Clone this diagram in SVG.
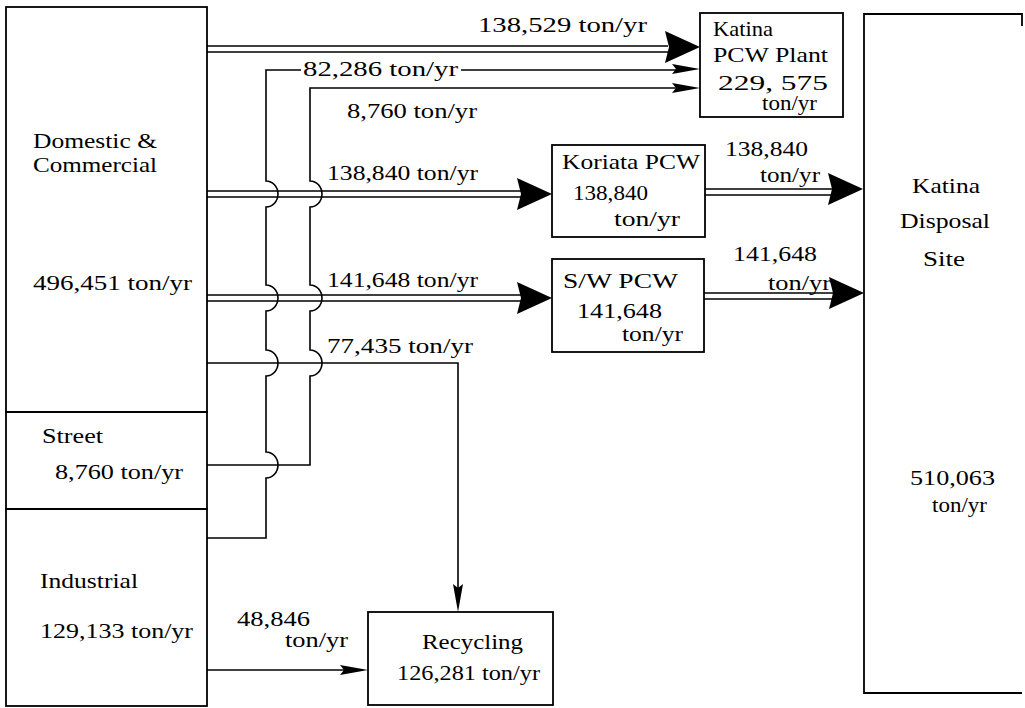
<svg xmlns="http://www.w3.org/2000/svg" xmlns:xlink="http://www.w3.org/1999/xlink" width="1025" height="708" viewBox="0 0 1025 708">
<style>
.box{fill:none;stroke:#000;stroke-width:1.8}
.ln{fill:none;stroke:#000;stroke-width:1.6}
.ah{fill:#000;stroke:none}
text{font-family:"Liberation Serif","Times New Roman",serif;font-size:21px;fill:#000}
</style>
<defs>
<polygon id="ahBig" class="ah" points="-35,-16 0,0 -35,16 -31,0"/>
<polygon id="ahSmall" class="ah" points="-28,-5 0,0 -28,5 -24,0"/>
</defs>
<rect width="1025" height="708" fill="#fff"/>

<g id="connectors">
  <!-- 138,529 to Katina PCW Plant -->
  <path class="ln" d="M207,46 H668 M207,52 H668"/>
  <use xlink:href="#ahBig" href="#ahBig" x="700" y="47"/>
  <!-- Industrial 82,286 to Katina PCW Plant -->
  <path class="ln" d="M207,538 H266 V478 A12,13 0 0 0 266,452 V376 A12,13 0 0 0 266,350 V311 A12,13 0 0 0 266,285 V207 A12,13 0 0 0 266,181 V70 H301 M461,70 H676"/>
  <use xlink:href="#ahSmall" href="#ahSmall" x="700" y="69"/>
  <!-- Street 8,760 to Katina PCW Plant -->
  <path class="ln" d="M207,465 H310 V376 A12,13 0 0 0 310,350 V311 A12,13 0 0 0 310,285 V207 A12,13 0 0 0 310,181 V88 H676"/>
  <use xlink:href="#ahSmall" href="#ahSmall" x="700" y="88"/>
  <!-- 138,840 to Koriata -->
  <path class="ln" d="M207,191 H522 M207,197 H522"/>
  <use xlink:href="#ahBig" href="#ahBig" x="552" y="194"/>
  <!-- 141,648 to S/W -->
  <path class="ln" d="M207,295 H522 M207,301 H522"/>
  <use xlink:href="#ahBig" href="#ahBig" x="552" y="298"/>
  <!-- 77,435 to Recycling -->
  <path class="ln" d="M207,363 H458 V590"/>
  <use xlink:href="#ahSmall" href="#ahSmall" transform="translate(458,612) rotate(90)"/>
  <!-- Industrial 48,846 to Recycling -->
  <path class="ln" d="M207,670 H344"/>
  <use xlink:href="#ahSmall" href="#ahSmall" x="368" y="670"/>
  <!-- Koriata to Disposal -->
  <path class="ln" d="M705,189 H834 M705,195 H834"/>
  <use xlink:href="#ahBig" href="#ahBig" x="863" y="189"/>
  <!-- S/W to Disposal -->
  <path class="ln" d="M704,293 H834 M704,299 H834"/>
  <use xlink:href="#ahBig" href="#ahBig" x="864" y="293"/>
  <!-- flow labels -->
  <text x="478" y="32" textLength="169" lengthAdjust="spacingAndGlyphs">138,529  ton/yr</text>
  <text x="303" y="76" textLength="155" lengthAdjust="spacingAndGlyphs">82,286 ton/yr</text>
  <text x="347" y="118" textLength="130" lengthAdjust="spacingAndGlyphs">8,760 ton/yr</text>
  <text x="327" y="180" textLength="151" lengthAdjust="spacingAndGlyphs">138,840 ton/yr</text>
  <text x="327" y="287" textLength="151" lengthAdjust="spacingAndGlyphs">141,648 ton/yr</text>
  <text x="327" y="353" textLength="146" lengthAdjust="spacingAndGlyphs">77,435  ton/yr</text>
  <text x="237" y="626" textLength="73" lengthAdjust="spacingAndGlyphs">48,846</text>
  <text x="285" y="647" textLength="63" lengthAdjust="spacingAndGlyphs">ton/yr</text>
  <text x="725" y="156" textLength="83" lengthAdjust="spacingAndGlyphs">138,840</text>
  <text x="760" y="182" textLength="60" lengthAdjust="spacingAndGlyphs">ton/yr</text>
  <text x="733" y="261" textLength="84" lengthAdjust="spacingAndGlyphs">141,648</text>
  <text x="768" y="290" textLength="63" lengthAdjust="spacingAndGlyphs">ton/yr</text>
</g>

<g id="src-domestic">
  <rect class="box" x="6" y="7" width="201" height="405"/>
  <text x="33" y="148" textLength="124" lengthAdjust="spacingAndGlyphs">Domestic &amp;</text>
  <text x="33" y="172" textLength="124" lengthAdjust="spacingAndGlyphs">Commercial</text>
  <text x="33" y="290" textLength="159" lengthAdjust="spacingAndGlyphs">496,451 ton/yr</text>
</g>
<g id="src-street">
  <rect class="box" x="6" y="412" width="201" height="97"/>
  <text x="42" y="443" textLength="61" lengthAdjust="spacingAndGlyphs">Street</text>
  <text x="55" y="479" textLength="128" lengthAdjust="spacingAndGlyphs">8,760 ton/yr</text>
</g>
<g id="src-industrial">
  <rect class="box" x="6" y="509" width="201" height="197"/>
  <text x="40" y="588" textLength="98" lengthAdjust="spacingAndGlyphs">Industrial</text>
  <text x="40" y="638" textLength="153" lengthAdjust="spacingAndGlyphs">129,133 ton/yr</text>
</g>
<g id="katina-pcw-plant">
  <rect class="box" x="700" y="13" width="143" height="104"/>
  <text x="713" y="36" textLength="60" lengthAdjust="spacingAndGlyphs">Katina</text>
  <text x="713" y="62" textLength="115" lengthAdjust="spacingAndGlyphs">PCW Plant</text>
  <text x="718" y="90" textLength="110" lengthAdjust="spacingAndGlyphs">229, 575</text>
  <text x="762" y="110" textLength="55" lengthAdjust="spacingAndGlyphs">ton/yr</text>
</g>
<g id="koriata-pcw">
  <rect class="box" x="552" y="145" width="153" height="92"/>
  <text x="562" y="169" textLength="138" lengthAdjust="spacingAndGlyphs">Koriata PCW</text>
  <text x="573" y="200" textLength="75" lengthAdjust="spacingAndGlyphs">138,840</text>
  <text x="614" y="226" textLength="66" lengthAdjust="spacingAndGlyphs">ton/yr</text>
</g>
<g id="sw-pcw">
  <rect class="box" x="552" y="259" width="152" height="93"/>
  <text x="563" y="288" textLength="115" lengthAdjust="spacingAndGlyphs">S/W  PCW</text>
  <text x="577" y="318" textLength="85" lengthAdjust="spacingAndGlyphs">141,648</text>
  <text x="622" y="341" textLength="61" lengthAdjust="spacingAndGlyphs">ton/yr</text>
</g>
<g id="recycling">
  <rect class="box" x="368" y="612" width="185" height="93"/>
  <text x="422" y="649" textLength="101" lengthAdjust="spacingAndGlyphs">Recycling</text>
  <text x="397" y="680" textLength="143" lengthAdjust="spacingAndGlyphs">126,281  ton/yr</text>
</g>
<g id="katina-disposal-site">
  <path class="box" d="M1022,26 V14 H864 V693 H1022"/>
  <text x="912" y="193" textLength="68" lengthAdjust="spacingAndGlyphs">Katina</text>
  <text x="900" y="228" textLength="90" lengthAdjust="spacingAndGlyphs">Disposal</text>
  <text x="923" y="266" textLength="42" lengthAdjust="spacingAndGlyphs">Site</text>
  <text x="910" y="485" textLength="85" lengthAdjust="spacingAndGlyphs">510,063</text>
  <text x="932" y="512" textLength="55" lengthAdjust="spacingAndGlyphs">ton/yr</text>
</g>
</svg>
